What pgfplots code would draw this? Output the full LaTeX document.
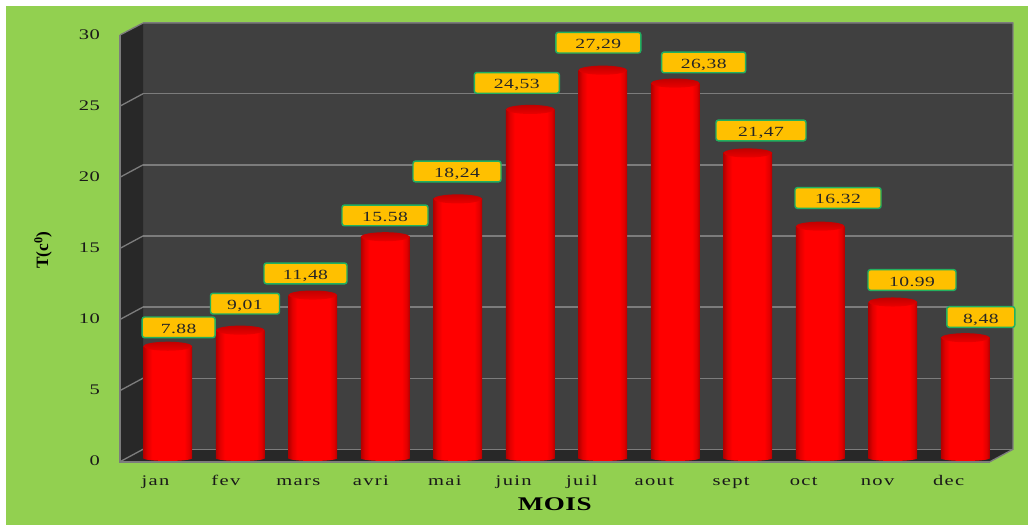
\documentclass[border=0pt]{standalone}
\usepackage{fontspec}
\setmainfont[FakeStretch=1.4,LetterSpace=3]{Liberation Serif}
\newfontfamily\narrowserif{Liberation Serif}
\usepackage{pgfplots}
\usepackage{pgfplotstable}
\pgfplotsset{compat=1.18}

\definecolor{pagegreen}{HTML}{92D050}
\definecolor{backwall}{HTML}{404040}
\definecolor{sidewall}{HTML}{282828}
\definecolor{edgegrey}{HTML}{7C7C7C}
\definecolor{labelfill}{HTML}{FFC000}
\definecolor{labeledge}{HTML}{22B060}

% Cylinder body and caps
\pgfdeclarehorizontalshading{cylbody}{100bp}{
  color(0bp)=(red!70!black); color(25bp)=(red!70!black); color(29bp)=(red!88!black);
  color(34bp)=(red); color(67bp)=(red); color(72bp)=(red!88!black);
  color(75bp)=(red!70!black); color(100bp)=(red!70!black)}
\pgfdeclareverticalshading{cylcap}{100bp}{
  color(0bp)=(red!92!black); color(25bp)=(red!92!black);
  color(75bp)=(red!76!black); color(100bp)=(red!76!black)}
\pgfdeclareplotmark{cyltop}{%
  \pgfpathellipse{\pgfpointorigin}{\pgfqpoint{18.25pt}{0pt}}{\pgfqpoint{0pt}{3.4pt}}%
  \pgfshadepath{cylcap}{0}\pgfusepath{discard}}
\pgfdeclareplotmark{cylbase}{%
  \pgfpathellipse{\pgfpointorigin}{\pgfqpoint{18.25pt}{0pt}}{\pgfqpoint{0pt}{2pt}}%
  \pgfshadepath{cylbody}{0}\pgfusepath{discard}}

% month index, temperature, label offsets and width (in pixels of the sheet), printed value
\pgfplotstableread{
i  v     dx     dy    w   txt
0  7.88  10.9   18.9  73  7.88
1  9.01  4.75   26.5  69  9,01
2  11.48 -7.25  21.6  83  11,48
3  15.58 -0.25  21.3  86  15.58
4  18.24 -0.75  27.4  88  18,24
5  24.53 -13.45 26.5  85  24,53
6  27.29 -4.45  27.5  85  27,29
7  26.38 28.45  20.7  84  26,38
8  21.47 13.25  22.5  90  21,47
9  16.32 17.75  28.2  86  16.32
10 10.99 19.25  22.0  88  10.99
11 8.48  15.55  20.7  68  8,48
}\monthly

\pgfplotstableread{
i  z
0  0
1  0
2  0
3  0
4  0
5  0
6  0
7  0
8  0
9  0
10 0
11 0
}\baseline

\pgfplotsset{plane/.style={
  scale only axis, width=652.5pt, height=320pt,
  xmin=-0.5, xmax=11.5, ymin=0, ymax=30,
  anchor=south west, clip=false}}

\begin{document}
\begin{tikzpicture}[x=0.75pt,y=-0.75pt]
  % sheet
  \path[use as bounding box] (0,0) rectangle (1028,525);
  \fill[white] (0,0) rectangle (1028,525);
  \fill[pagegreen] (6,6) rectangle (1028,525);

  % box walls and floor
  \fill[backwall] (143,23) rectangle (1013,449.3);
  \fill[sidewall] (120,35) -- (143,23) -- (143,449.3) -- (120,461.7) -- cycle;
  \fill[sidewall] (120,461.7) -- (143,449.3) -- (1013,449.3) -- (990,461.7) -- cycle;
  \draw[edgegrey, line width=1pt] (143,23) -- (1013,23) -- (1013,449.3) -- (990,461.7);
  \draw[edgegrey, line width=1.5pt] (120,35) -- (120,461.7) -- (990,461.7);
  \draw[edgegrey, line width=1pt] (120,35) -- (143,23);
  \foreach \k in {0,5,10,15,20,25}
    \draw[edgegrey, line width=1pt] (120,461.7-14.223*\k) -- (143,449.3-14.223*\k);

  % grid on the back wall
  \begin{axis}[plane, at={(107.25pt,-336.975pt)},
      axis line style={draw=none}, tick style={draw=none},
      xtick=\empty, ytick={0,5,...,30}, yticklabels={},
      ymajorgrids, grid style={edgegrey, line width=1pt}]
    \addplot[draw=none] coordinates {(0,0)};
  \end{axis}

  % cylinders, one plot per month so that each gets its own shading
  \begin{axis}[plane, at={(98.625pt,-343.725pt)}, hide axis]
    \addplot[only marks, mark=cylbase] table[x=i, y=z] {\baseline};
    \pgfplotsinvokeforeach{0,...,11}{
      \addplot[ybar, bar width=36.5pt, bar shift=0pt, draw=none, shade, shading=cylbody,
        restrict x to domain=#1:#1]
        table[x=i, y=v] {\monthly};
    }
    \addplot[only marks, mark=cyltop] table[x=i, y=v] {\monthly};
    \addplot[draw=none, mark=none,
      visualization depends on={\thisrow{dx}*0.75 \as \dxx},
      visualization depends on={\thisrow{dy}*0.75 \as \dyy},
      visualization depends on={\thisrow{w}*0.75 \as \www},
      point meta=explicit symbolic,
      nodes near coords,
      every node near coord/.style={anchor=center, xshift=\dxx pt, yshift=\dyy pt,
        minimum width=\www pt, minimum height=15.5pt, inner sep=0pt,
        text height=9pt, text depth=0pt,
        rounded corners=1.8pt, fill=labelfill, draw=labeledge, line width=1.1pt,
        font=\fontsize{10.5}{12}\selectfont, text=black!85}]
      table[x=i, y=v, meta=txt] {\monthly};
  \end{axis}

  % tick labels and axis titles
  \begin{axis}[plane, at={(90pt,-346.275pt)},
      axis line style={draw=none}, tick style={draw=none},
      xtick={-0.01,0.96,1.96,2.96,3.98,4.93,5.87,6.87,7.93,8.93,9.95,10.93},
      xticklabels={jan,fev,mars,avri,mai,juin,juil,aout,sept,oct,nov,dec},
      ytick={0,5,...,30},
      /pgf/number format/assume math mode=true,
      tick label style={font=\fontsize{11}{12}\selectfont, text=black!90},
      xticklabel style={yshift=-6.5pt, text height=7.5pt, text depth=2pt,
        font=\addfontfeatures{LetterSpace=9}\fontsize{11}{12}\selectfont},
      yticklabel style={xshift=-11.5pt, yshift=0.5pt},
      xlabel={\textbf{MOIS}},
      ylabel={{\narrowserif\bfseries T(c\textsuperscript{0})}},
      every axis x label/.style={at={(axis description cs:0.5,0)}, anchor=center,
        yshift=-31.7pt, font=\fontsize{14.5}{15}\selectfont},
      every axis y label/.style={at={(axis description cs:0,0.496)}, anchor=center,
        xshift=-57.75pt, rotate=90, font=\fontsize{13}{14}\selectfont}]
    \addplot[draw=none] coordinates {(0,0)};
  \end{axis}
\end{tikzpicture}
\end{document}
